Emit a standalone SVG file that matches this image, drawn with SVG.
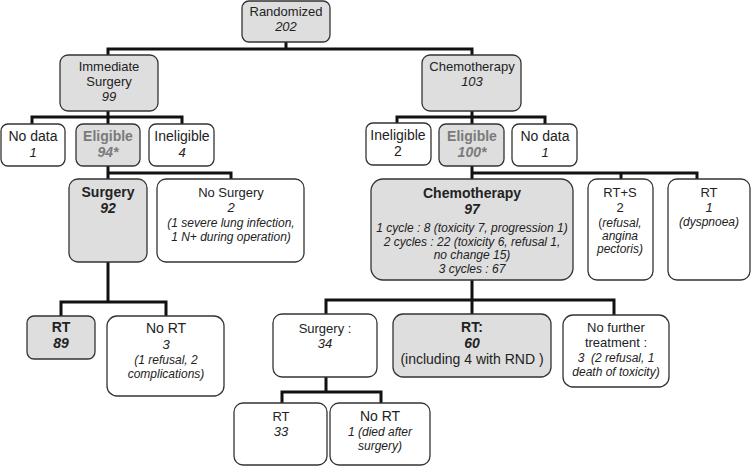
<svg xmlns="http://www.w3.org/2000/svg" width="751" height="466" viewBox="0 0 751 466">
<style>
.b{stroke:#333;stroke-width:1.3}
.g{fill:#dedede}
.w{fill:#fff}
text{font-family:"Liberation Sans",Arial,sans-serif;fill:#222;text-anchor:middle}
.t13{font-size:13px}
.t14{font-size:14px}
.i{font-style:italic;font-size:12px}
.i13{font-style:italic;font-size:13px}
.bd{font-weight:bold;font-size:14px}
.bi{font-weight:bold;font-style:italic;font-size:14px}
.gr{fill:#7a7a7a}
.c{fill:none;stroke:#111;stroke-width:3}
</style>
<rect width="751" height="466" fill="#fff"/>
<g id="connectors" class="c">
<path d="M286 42V49M108 55V49H472V55"/>
<path d="M108 111V124M32 124V117H182V124"/>
<path d="M472 111V124M397 124V117H545V124"/>
<path d="M108 166V179M231 179V173H108"/>
<path d="M472 166V179M621 179V173M697 179V173H472"/>
<path d="M108 262V302M61 316V302H166V316"/>
<path d="M472 280V314M326 314V300H614V315"/>
<path d="M326 377V392M282 403V392H381V403"/>
</g>
<g id="randomized"><rect class="b g" x="242" y="1" width="88" height="41" rx="7"/><text class="t13" x="286" y="16">Randomized</text><text class="i13" x="286" y="31">202</text></g>
<g id="immediate"><rect class="b g" x="60" y="55" width="98" height="56" rx="8"/><text class="t13" x="109" y="71">Immediate</text><text class="t13" x="109" y="86">Surgery</text><text class="i13" x="109" y="101">99</text></g>
<g id="chemo103"><rect class="b g" x="422" y="55" width="99" height="56" rx="8"/><text class="t13" x="472" y="71">Chemotherapy</text><text class="i13" x="472" y="86">103</text></g>
<g id="nodata1"><rect class="b w" x="1" y="124" width="64" height="42" rx="7"/><text class="t14" x="33" y="141">No data</text><text class="i13" x="33" y="157">1</text></g>
<g id="eligible94"><rect class="b g" x="76" y="124" width="64" height="42" rx="7"/><text class="bd gr" x="108" y="141">Eligible</text><text class="bi gr" x="108" y="157">94*</text></g>
<g id="ineligible4"><rect class="b w" x="149" y="124" width="65" height="42" rx="7"/><text class="t14" x="182" y="141">Ineligible</text><text class="i13" x="182" y="157">4</text></g>
<g id="ineligible2"><rect class="b w" x="366" y="123" width="65" height="42" rx="7"/><text class="t14" x="398" y="140">Ineligible</text><text class="t14" x="398" y="156">2</text></g>
<g id="eligible100"><rect class="b g" x="439" y="124" width="65" height="42" rx="7"/><text class="bd gr" x="472" y="141">Eligible</text><text class="bi gr" x="472" y="157">100*</text></g>
<g id="nodata1b"><rect class="b w" x="512" y="124" width="65" height="42" rx="7"/><text class="t14" x="545" y="141">No data</text><text class="i13" x="545" y="157">1</text></g>
<g id="surgery92"><rect class="b g" x="69" y="179" width="78" height="83" rx="9"/><text class="bd" x="108" y="197">Surgery</text><text class="bi" x="108" y="213">92</text></g>
<g id="nosurgery"><rect class="b w" x="157" y="179" width="147" height="83" rx="9"/><text class="t13" x="231" y="197">No Surgery</text><text class="i13" x="231" y="212">2</text><text class="i" x="231" y="227">(1 severe lung infection,</text><text class="i" x="231" y="241">1 N+ during operation)</text></g>
<g id="chemo97"><rect class="b g" x="371" y="179" width="202" height="101" rx="12"/><text class="bd" x="472" y="198">Chemotherapy</text><text class="bi" x="472" y="214">97</text><text class="i" x="472" y="232">1 cycle : 8 (toxicity 7, progression 1)</text><text class="i" x="472" y="245.5">2 cycles : 22 (toxicity 6, refusal 1,</text><text class="i" x="472" y="259">no change 15)</text><text class="i" x="472" y="272.5">3 cycles : 67</text></g>
<g id="rts"><rect class="b w" x="588" y="179" width="65" height="101" rx="9"/><text class="t13" x="620" y="197">RT+S</text><text class="t13" x="620" y="212">2</text><text class="i" x="620" y="227"><tspan font-style="normal">(</tspan>refusal,</text><text class="i" x="620" y="240">angina</text><text class="i" x="620" y="253">pectoris)</text></g>
<g id="rt1"><rect class="b w" x="668" y="179" width="82" height="101" rx="9"/><text class="t13" x="709" y="197">RT</text><text class="i13" x="709" y="212">1</text><text class="i" x="709" y="226">(dyspnoea)</text></g>
<g id="rt89"><rect class="b g" x="27" y="316" width="68" height="43" rx="7"/><text class="bd" x="61" y="332">RT</text><text class="bi" x="61" y="348">89</text></g>
<g id="nort3"><rect class="b w" x="107" y="316" width="117" height="80" rx="10"/><text class="t14" x="166" y="333">No RT</text><text class="i13" x="166" y="349">3</text><text class="i" x="166" y="364">(1 refusal, 2</text><text class="i" x="166" y="378">complications)</text></g>
<g id="surgery34"><rect class="b w" x="273" y="314" width="104" height="63" rx="9"/><text class="t13" x="325" y="333">Surgery :</text><text class="i13" x="325" y="348">34</text></g>
<g id="rt60"><rect class="b g" x="393" y="314" width="158" height="63" rx="10"/><text class="bd" x="472" y="332">RT:</text><text class="bi" x="472" y="348">60</text><text class="t14" x="472" y="364">(including 4 with RND )</text></g>
<g id="nofurther"><rect class="b w" x="563" y="315" width="106" height="72" rx="10"/><text class="t13" x="616" y="332">No further</text><text class="t13" x="616" y="347">treatment :</text><text class="i" x="616" y="362">3 &#160;(2 refusal, 1</text><text class="i" x="616" y="376">death of toxicity)</text></g>
<g id="rt33"><rect class="b w" x="234" y="403" width="93" height="62" rx="9"/><text class="t13" x="281" y="421">RT</text><text class="i13" x="281" y="436">33</text></g>
<g id="nort1"><rect class="b w" x="330" y="403" width="100" height="62" rx="9"/><text class="t14" x="380" y="421">No RT</text><text class="i" x="380" y="436">1 (died after</text><text class="i" x="380" y="450">surgery)</text></g>
</svg>
